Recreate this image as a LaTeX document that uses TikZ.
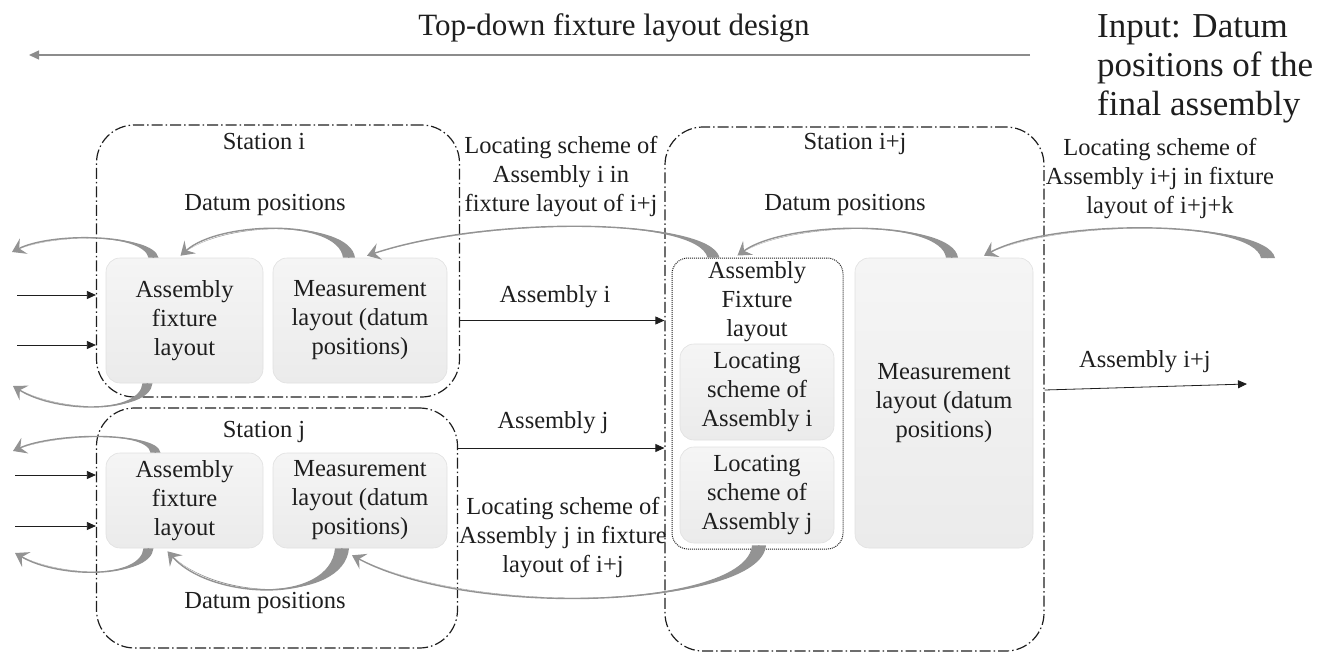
\documentclass[tikz,border=0pt]{standalone}
\usepackage{fontspec}
\setmainfont{Liberation Serif}
\usetikzlibrary{arrows.meta,calc}
\definecolor{txt}{HTML}{1E1E1E}
\definecolor{agray}{HTML}{939393}
\definecolor{boxtop}{HTML}{F5F5F5}
\definecolor{boxbot}{HTML}{EBEBEB}
\definecolor{boxline}{HTML}{E0E0E0}
\newcommand\taparrow[5]{%
  \fill[agray] ($(#1)+(-#5,0)$) .. controls +(#3) and +(#4) .. (#2)
     .. controls +(#4) and +(#3) .. ($(#1)+(#5,0)$) -- cycle;
  \draw[agray, line width=1.4pt, -{Stealth[length=13pt,width=17pt,inset=5pt]}]
     (#1) .. controls +(#3) and +(#4) .. (#2);
}
\begin{document}
\begin{tikzpicture}[x=1pt,y=-1pt,
  station/.style={draw=txt, line width=1.2pt, dash pattern=on 11pt off 3pt on 1.5pt off 3pt, rounded corners=38pt, inner sep=0pt},
  gbox/.style={draw=boxline, line width=0.6pt, top color=boxtop, bottom color=boxbot, rounded corners=14pt, inner sep=0pt, align=center, text=txt, font=\fontsize{24.5}{29}\selectfont},
  dotbox/.style={draw=txt, line width=1pt, dash pattern=on 1pt off 1pt, rounded corners=16pt, inner sep=0pt},
  lbl/.style={align=center, inner sep=0pt, text=txt, font=\fontsize{24.5}{29}\selectfont},
  flow/.style={draw=txt, line width=0.8pt, -{Triangle[length=9pt,width=8pt]}},
]
\useasboundingbox (0,0) rectangle (1336,653);

% title and top arrow
\node[lbl, font=\fontsize{31}{36}\selectfont] (title) at (614,28) {Top-down fixture layout design};
\node[lbl, align=left, anchor=west, font=\fontsize{35}{39}\selectfont] (input) at (1097,69) {Input: Datum\\positions of the\\final assembly};
\coordinate (topr) at (1030,55);
\coordinate (topl) at (29,55);
\draw[draw=black!45, line width=1.3pt, -{Triangle[length=10pt,width=9pt]}] (topr) -- (topl);

% stations
\node[station, minimum width=363pt, minimum height=272pt] (sti) at (278,261) {};
\node[station, minimum width=361pt, minimum height=240pt] (stj) at (277,528) {};
\node[station, minimum width=379pt, minimum height=524pt] (stij) at (854.5,389) {};

\node[lbl] (stiL) at (264,142) {Station i};
\node[lbl] (stjL) at (264,432) {Station j};
\node[lbl] (stijL) at (855,144) {Station i+j};
\node[lbl] (dpi) at (265,205) {Datum positions};
\node[lbl] (dpj) at (265,603) {Datum positions};
\node[lbl] (dpij) at (845,205) {Datum positions};

% boxes station i
\node[gbox, minimum width=157pt, minimum height=125pt] (afli) at (184.5,320.5) {Assembly\\fixture\\layout};
\node[gbox, minimum width=174pt, minimum height=125pt] (mli) at (360,320.5) {Measurement\\layout (datum\\positions)};
% boxes station j
\node[gbox, minimum width=157pt, minimum height=95pt] (aflj) at (184.5,500.5) {Assembly\\fixture\\layout};
\node[gbox, minimum width=174pt, minimum height=95pt] (mlj) at (360,500.5) {Measurement\\layout (datum\\positions)};
% boxes station i+j
\node[gbox, minimum width=154pt, minimum height=96pt] (loci) at (757,392) {Locating\\scheme of\\Assembly i};
\node[gbox, minimum width=154pt, minimum height=96pt] (locj) at (757,495) {Locating\\scheme of\\Assembly j};
\node[dotbox, minimum width=171pt, minimum height=291pt] (afx) at (757.5,403.5) {};
\node[lbl] (afxL) at (757,302) {Assembly\\Fixture\\layout};
\node[gbox, minimum width=178pt, minimum height=290pt] (mlb) at (944,403) {Measurement\\layout (datum\\positions)};

% between-station labels
\node[lbl] (lsi) at (561,177) {Locating scheme of\\Assembly i in\\fixture layout of i+j};
\node[lbl] (lsj) at (563,538) {Locating scheme of\\Assembly j in fixture\\layout of i+j};
\node[lbl] (lsk) at (1160,179) {Locating scheme of\\Assembly i+j in fixture\\layout of i+j+k};
\node[lbl] (asiL) at (555,297) {Assembly i};
\node[lbl] (asjL) at (553,423) {Assembly j};
\node[lbl] (asijL) at (1145,362) {Assembly i+j};

% straight flows
\coordinate (ajy) at (0,448);
\draw[flow] (sti.east |- afli.center) -- (stij.west |- afli.center);
\draw[flow] (stj.east |- ajy) -- (stij.west |- ajy);
\coordinate (aijy) at (0,390);
\coordinate (outij) at (1247,384);
\draw[flow] (stij.east |- aijy) -- (outij);
\coordinate (in1) at (17,295);
\coordinate (in2) at (17,345);
\coordinate (in3) at (15,475);
\coordinate (in4) at (15,526);
\draw[flow] (in1) -- (in1 -| sti.west);
\draw[flow] (in2) -- (in2 -| sti.west);
\draw[flow] (in3) -- (in3 -| stj.west);
\draw[flow] (in4) -- (in4 -| stj.west);

% curved tapered arrows
\coordinate (c1s) at ($(afli.north)+(-31,0)$);
\coordinate (c1e) at (12,252);
\taparrow{c1s}{c1e}{-5,-24}{40,-20}{5}
\coordinate (c2s) at ($(afli.south)+(-37,0)$);
\coordinate (c2e) at (13,386);
\taparrow{c2s}{c2e}{-3,30}{45,28}{5}
\coordinate (c3s) at ($(mli.north)+(-11,0)$);
\coordinate (c3e) at ($(afli.north)+(-4,-2)$);
\taparrow{c3s}{c3e}{-5,-38}{40,-36}{6}
\coordinate (c4s) at ($(afx.north)+(-44,0)$);
\coordinate (c4e) at ($(mli.north)+(7,-2)$);
\taparrow{c4s}{c4e}{-10,-40}{120,-40}{6}
\coordinate (c5s) at ($(mlb.north)+(8,0)$);
\coordinate (c5e) at ($(afx.north)+(-20,-2)$);
\taparrow{c5s}{c5e}{-5,-38}{50,-36}{6}
\coordinate (c6s) at (1268,258);
\coordinate (c6e) at ($(mlb.north)+(40,-2)$);
\taparrow{c6s}{c6e}{-8,-38}{70,-38}{7}
\coordinate (c7s) at ($(aflj.north)+(-29,0)$);
\coordinate (c7e) at (13,451);
\taparrow{c7s}{c7e}{-3,-22}{40,-18}{5}
\coordinate (c8s) at ($(aflj.south)+(-36,0)$);
\coordinate (c8e) at (15,553);
\taparrow{c8s}{c8e}{-3,30}{45,26}{5}
\coordinate (c9s) at ($(mlj.south)+(-18,0)$);
\coordinate (c9e) at ($(aflj.south)+(-17,3)$);
\taparrow{c9s}{c9e}{-5,55}{45,50}{7}
\coordinate (c10s) at ($(locj.south)+(2,2)$);
\coordinate (c10e) at ($(mlj.south)+(-8,7)$);
\taparrow{c10s}{c10e}{-5,62}{120,64}{7}
\end{tikzpicture}
\end{document}
